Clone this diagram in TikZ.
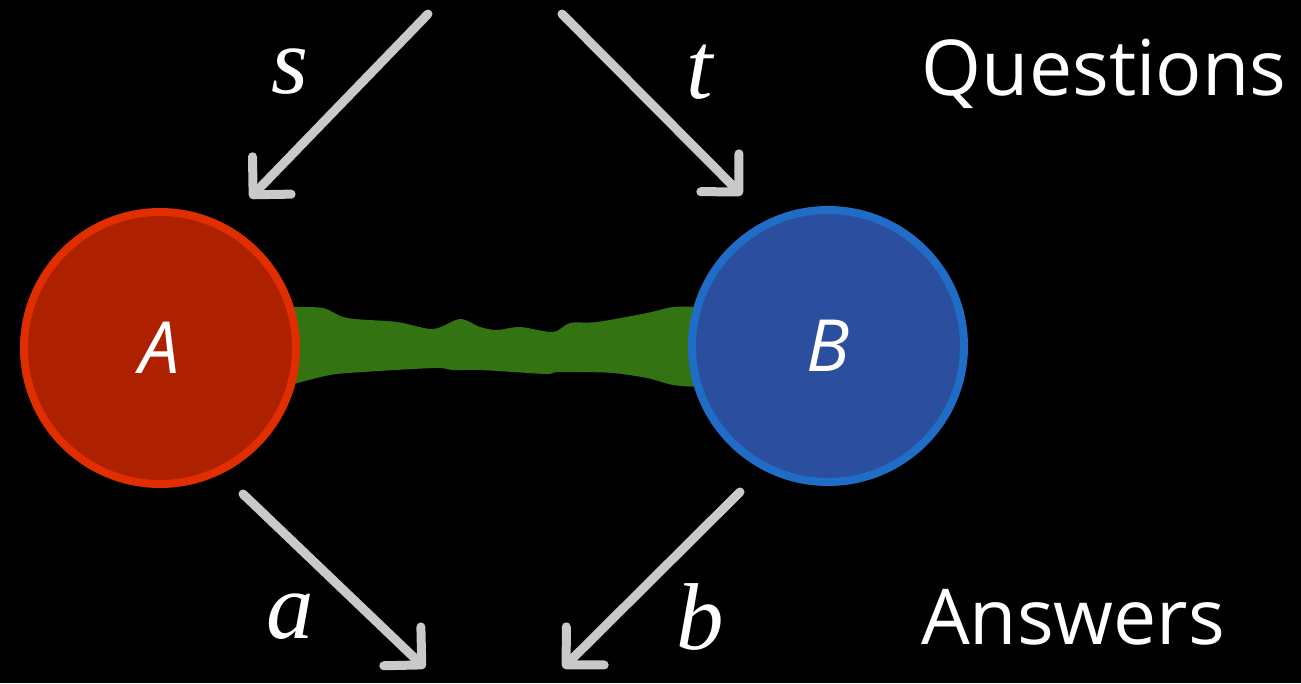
\documentclass[tikz,border=0pt]{standalone}
\usepackage{fontspec}
\setmainfont{Open Sans}
\newfontfamily\qvarfont{Liberation Serif}
\usepackage{tikz}
\usetikzlibrary{arrows.meta,positioning,calc}
\definecolor{chalk}{HTML}{C9C9C9}
\definecolor{redfill}{HTML}{AE2100}
\definecolor{redrim}{HTML}{E12E00}
\definecolor{bluefill}{HTML}{2C4E9E}
\definecolor{bluerim}{HTML}{1F6DC6}
\definecolor{link}{HTML}{347311}
\tikzset{%
  % players
  party/.style={circle, minimum size=272pt, inner sep=0pt, line width=8pt,
    text=white, font=\fontsize{72}{72}\selectfont\itshape},
  alice/.style={party, draw=redrim, fill=redfill},
  bob/.style={party, draw=bluerim, fill=bluefill},
  % edge styles
  chalkarrow/.style={draw=chalk, line width=9pt, line cap=round,
    -{Straight Barb[angle=90:38pt, line width=9pt, round]}},
  qvar/.style={text=white, font=\qvarfont\fontsize{95}{95}\selectfont\itshape},
  side/.style={text=white, font=\fontsize{77}{77}\selectfont},
}

\begin{document}
\begin{tikzpicture}[x=1pt, y=-1pt]
  \fill[black] (0,0) rectangle (1301,683);
  \useasboundingbox (0,0) rectangle (1301,683);

  % entanglement between the players
  \fill[link] plot[smooth] coordinates {(290,307) (323,308) (347,318) (397,322)
      (433,329) (460,319) (480,327) (497,330) (520,327) (553,332) (570,323)
      (597,322) (647,313) (673,307) (700,307)}
    -- plot[smooth] coordinates {(700,387) (673,385) (647,378) (613,373)
      (580,372) (557,372) (547,374) (513,372) (480,370) (453,370) (440,368)
      (413,369) (363,372) (330,375) (290,385)} -- cycle;

  \node[alice] (A) at (160,348) {A};
  \node[bob] (B) at (828,346) {B};

  \coordinate (sfrom) at (428,14);
  \coordinate (sto) at (250,198);
  \coordinate (tfrom) at (562,14);
  \coordinate (tto) at (742,195);
  \coordinate (ato) at (425,668);
  \coordinate (bto) at (563,668);
  \coordinate (afrom) at (243,494);
  \coordinate (bfrom) at (740,492);

  \draw[chalkarrow] (sfrom) -- (sto);
  \draw[chalkarrow] (tfrom) -- (tto);
  \draw[chalkarrow] (afrom) -- (ato);
  \draw[chalkarrow] (bfrom) -- (bto);

  \node[qvar] (s) at (290,72) {s};
  \node[qvar] (t) at (700,72) {t};
  \node[qvar] (a) at (290,617) {a};
  \node[qvar] (b) at (700,617) {b};

  \node[side] (questions) at (1104,74) {Questions};
  \node[side] (answers) at (1073,617) {Answers};
\end{tikzpicture}
\end{document}
